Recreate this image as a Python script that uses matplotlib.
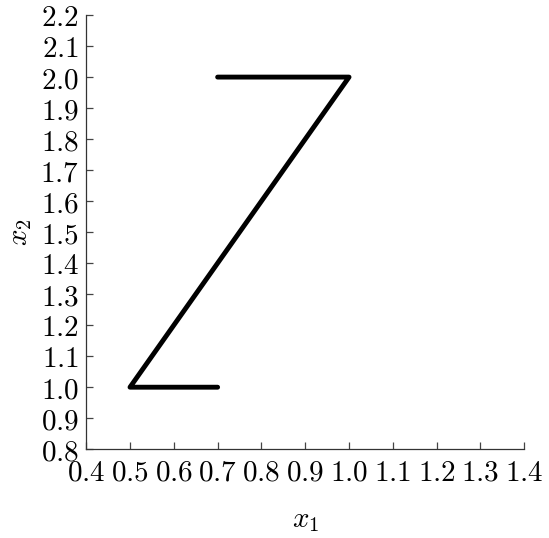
import matplotlib
matplotlib.use("Agg")
import matplotlib.pyplot as plt
import numpy as np
from matplotlib.ticker import FuncFormatter, MultipleLocator

plt.rcParams['mathtext.fontset'] = 'cm'

# path of the Z curve
x1 = [0.7, 0.5, 1.0, 0.7]
x2 = [1.0, 1.0, 2.0, 2.0]

fig = plt.figure(figsize=(5.49, 5.38), dpi=100)
ax = fig.add_axes([0.157, 0.165, 0.798, 0.807])

ax.plot(x1, x2, color='black', lw=3.5, solid_capstyle='round', solid_joinstyle='round')

ax.set_xlim(0.4, 1.4)
ax.set_ylim(0.8, 2.2)
ax.xaxis.set_major_locator(MultipleLocator(0.1))
ax.yaxis.set_major_locator(MultipleLocator(0.1))
fmt = FuncFormatter(lambda v, pos: r'$%.1f$' % v)
ax.xaxis.set_major_formatter(fmt)
ax.yaxis.set_major_formatter(fmt)

for side in ['top', 'right']:
    ax.spines[side].set_visible(False)
for side in ['left', 'bottom']:
    ax.spines[side].set_linewidth(0.9)
    ax.spines[side].set_color('#333333')

ax.tick_params(direction='in', length=5, width=0.9, color='#444444',
               labelsize=21)
ax.tick_params(axis='y', pad=5)
ax.tick_params(axis='x', pad=7)

ax.set_xlabel(r'$x_1$', fontsize=21, labelpad=14)
ax.set_ylabel(r'$x_2$', fontsize=21, labelpad=5)

fig.savefig('out.png', dpi=100)
